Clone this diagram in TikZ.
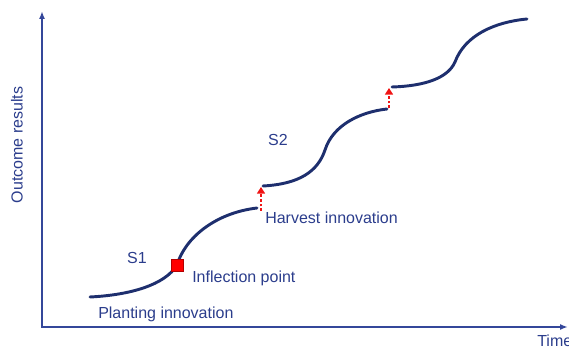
\documentclass[tikz,border=0pt]{standalone}
\usepackage{fontspec}
\setmainfont{Liberation Sans}
\usetikzlibrary{arrows.meta}

\definecolor{axisblue}{HTML}{34479A}
\definecolor{curveblue}{HTML}{1E2F6E}
\definecolor{textblue}{HTML}{2B3D8C}
\definecolor{jumpred}{HTML}{F01414}

\begin{document}
\begin{tikzpicture}[x=0.75pt, y=-0.75pt,
		lbl/.style={text=textblue, font=\fontsize{12}{14}\selectfont, inner sep=0pt},
		axis/.style={draw=axisblue, line width=1.5pt},
		scurve/.style={draw=curveblue, line width=2.2pt, line cap=round},
		jump/.style={draw=jumpred, line width=1.5pt, dash pattern=on 2pt off 1.5pt, -{Triangle[length=5pt,width=6pt]}}]

	\useasboundingbox (0,0) rectangle (569,348);

	% axes
	\coordinate (o) at (42,327);
	\coordinate (ytop) at (42,11);
	\coordinate (xend) at (568,327);
	\draw[axis, {Latex[length=6pt,width=4.5pt]}-{Latex[length=6pt,width=4.5pt]}] (ytop) -- (o) -- (xend);
	\node[lbl, rotate=90] (yl) at (17,145) {Outcome results};
	\node[lbl, anchor=west] (xl) at (537,341) {Time};

	% first S curve
	\coordinate (s1a) at (90,297);
	\coordinate (infl) at (177,265);
	\coordinate (s1b) at (257,208);
	\draw[scurve] (s1a) .. controls (130,295) and (165,285) .. (infl)
		.. controls (185,238) and (215,213) .. (s1b);

	% second S curve
	\coordinate (s2a) at (263,186);
	\coordinate (s2m) at (325,150);
	\coordinate (s2b) at (387,109);
	\draw[scurve] (s2a) .. controls (300,184) and (318,171) .. (s2m)
		.. controls (333,125) and (360,112) .. (s2b);

	% third S curve
	\coordinate (s3a) at (392,87);
	\coordinate (s3m) at (455,62);
	\coordinate (s3b) at (527,19);
	\draw[scurve] (s3a) .. controls (425,86) and (448,78) .. (s3m)
		.. controls (465,35) and (495,22) .. (s3b);

	% jumps
	\coordinate (j1a) at (261,211);
	\coordinate (j1b) at (261,187);
	\coordinate (j2a) at (389,108);
	\coordinate (j2b) at (389,88);
	\draw[jump] (j1a) -- (j1b);
	\draw[jump] (j2a) -- (j2b);

	\node[draw=red!70!black, fill=red, minimum size=9pt, inner sep=0pt] (sq) at (infl) {};

	% labels
	\node[lbl] (s1) at (137,258) {S1};
	\node[lbl] (s2) at (278,140) {S2};
	\node[lbl, anchor=west] (ip) at (192,278) {Inflection point};
	\node[lbl, anchor=west] (pi) at (98,314) {Planting innovation};
	\node[lbl, anchor=west] (hi) at (265,218) {Harvest innovation};
\end{tikzpicture}
\end{document}
